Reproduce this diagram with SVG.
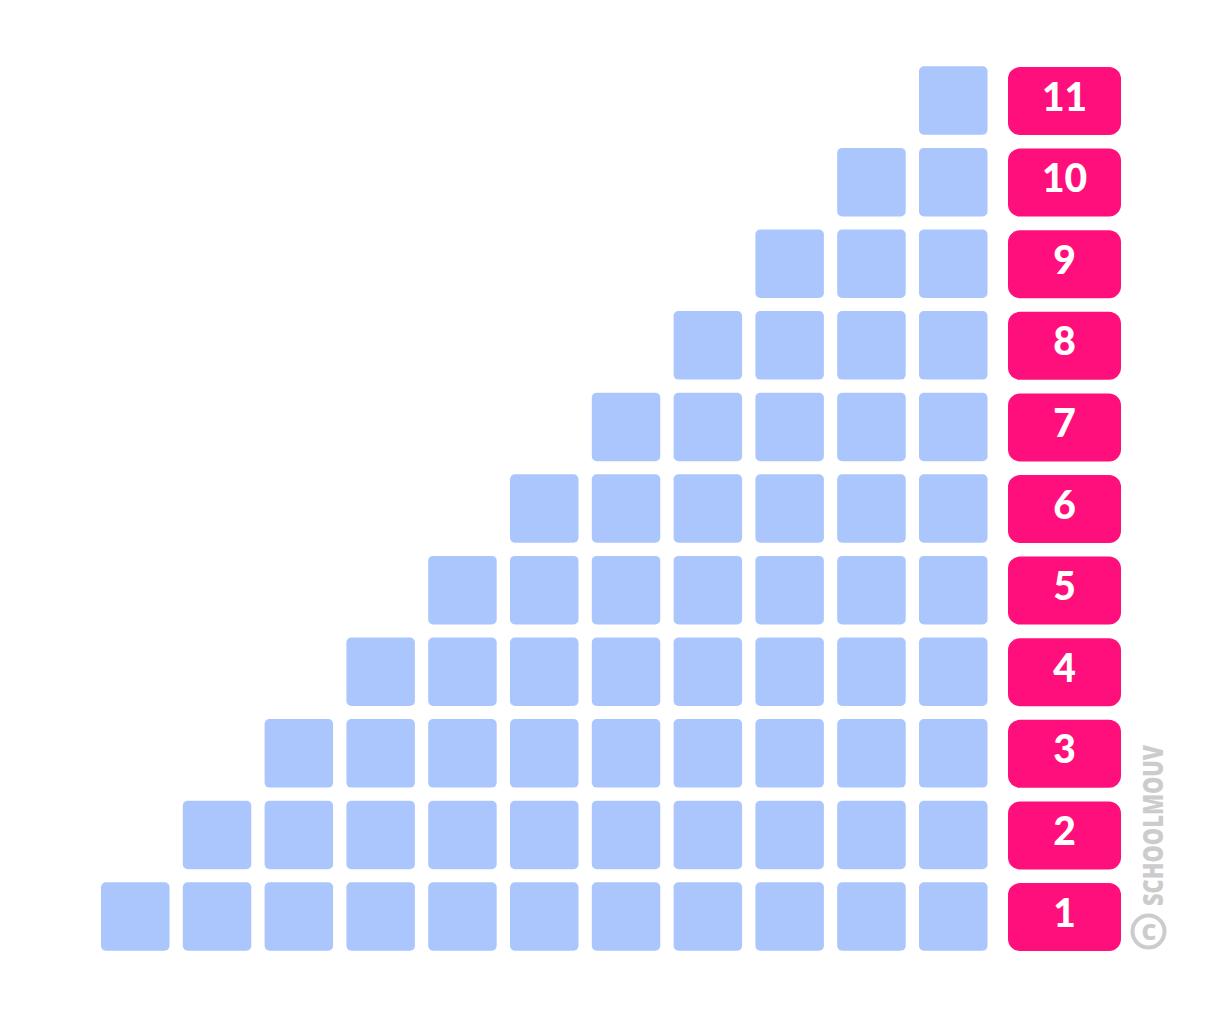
<svg xmlns="http://www.w3.org/2000/svg" width="1222" height="1015" viewBox="0 0 1222 1015">
<style>
.sq{fill:#abc6fd}
.lb{fill:#ff0f7b}
.lt{fill:#fff;font-family:Lato,"Open Sans",sans-serif;font-weight:900;font-size:39px;text-anchor:middle}
.wm{fill:#cccccc;font-family:"Open Sans","Liberation Sans",sans-serif;font-weight:800;font-size:28px}
</style>
<defs>
<rect id="s" width="68.5" height="68.5" rx="5"/>
<rect id="l" width="113" height="68" rx="12"/>
</defs>
<rect width="1222" height="1015" fill="#fff"/>
<g id="squares" class="sq">
<use href="#s" x="101" y="882.3"/><use href="#s" x="182.8" y="882.3"/><use href="#s" x="264.6" y="882.3"/><use href="#s" x="346.4" y="882.3"/><use href="#s" x="428.2" y="882.3"/><use href="#s" x="510" y="882.3"/><use href="#s" x="591.8" y="882.3"/><use href="#s" x="673.6" y="882.3"/><use href="#s" x="755.4" y="882.3"/><use href="#s" x="837.2" y="882.3"/><use href="#s" x="919" y="882.3"/>
<use href="#s" x="182.8" y="800.7"/><use href="#s" x="264.6" y="800.7"/><use href="#s" x="346.4" y="800.7"/><use href="#s" x="428.2" y="800.7"/><use href="#s" x="510" y="800.7"/><use href="#s" x="591.8" y="800.7"/><use href="#s" x="673.6" y="800.7"/><use href="#s" x="755.4" y="800.7"/><use href="#s" x="837.2" y="800.7"/><use href="#s" x="919" y="800.7"/>
<use href="#s" x="264.6" y="719.1"/><use href="#s" x="346.4" y="719.1"/><use href="#s" x="428.2" y="719.1"/><use href="#s" x="510" y="719.1"/><use href="#s" x="591.8" y="719.1"/><use href="#s" x="673.6" y="719.1"/><use href="#s" x="755.4" y="719.1"/><use href="#s" x="837.2" y="719.1"/><use href="#s" x="919" y="719.1"/>
<use href="#s" x="346.4" y="637.5"/><use href="#s" x="428.2" y="637.5"/><use href="#s" x="510" y="637.5"/><use href="#s" x="591.8" y="637.5"/><use href="#s" x="673.6" y="637.5"/><use href="#s" x="755.4" y="637.5"/><use href="#s" x="837.2" y="637.5"/><use href="#s" x="919" y="637.5"/>
<use href="#s" x="428.2" y="555.9"/><use href="#s" x="510" y="555.9"/><use href="#s" x="591.8" y="555.9"/><use href="#s" x="673.6" y="555.9"/><use href="#s" x="755.4" y="555.9"/><use href="#s" x="837.2" y="555.9"/><use href="#s" x="919" y="555.9"/>
<use href="#s" x="510" y="474.3"/><use href="#s" x="591.8" y="474.3"/><use href="#s" x="673.6" y="474.3"/><use href="#s" x="755.4" y="474.3"/><use href="#s" x="837.2" y="474.3"/><use href="#s" x="919" y="474.3"/>
<use href="#s" x="591.8" y="392.7"/><use href="#s" x="673.6" y="392.7"/><use href="#s" x="755.4" y="392.7"/><use href="#s" x="837.2" y="392.7"/><use href="#s" x="919" y="392.7"/>
<use href="#s" x="673.6" y="311.1"/><use href="#s" x="755.4" y="311.1"/><use href="#s" x="837.2" y="311.1"/><use href="#s" x="919" y="311.1"/>
<use href="#s" x="755.4" y="229.5"/><use href="#s" x="837.2" y="229.5"/><use href="#s" x="919" y="229.5"/>
<use href="#s" x="837.2" y="147.9"/><use href="#s" x="919" y="147.9"/>
<use href="#s" x="919" y="66.3"/>
</g>
<g id="labels">
<g id="label1"><use href="#l" class="lb" x="1008" y="883"/><text class="lt" x="1064.5" y="926.5">1</text></g>
<g id="label2"><use href="#l" class="lb" x="1008" y="801.4"/><text class="lt" x="1064.5" y="844.9">2</text></g>
<g id="label3"><use href="#l" class="lb" x="1008" y="719.8"/><text class="lt" x="1064.5" y="763.3">3</text></g>
<g id="label4"><use href="#l" class="lb" x="1008" y="638.2"/><text class="lt" x="1064.5" y="681.7">4</text></g>
<g id="label5"><use href="#l" class="lb" x="1008" y="556.6"/><text class="lt" x="1064.5" y="600.1">5</text></g>
<g id="label6"><use href="#l" class="lb" x="1008" y="475"/><text class="lt" x="1064.5" y="518.5">6</text></g>
<g id="label7"><use href="#l" class="lb" x="1008" y="393.4"/><text class="lt" x="1064.5" y="436.9">7</text></g>
<g id="label8"><use href="#l" class="lb" x="1008" y="311.8"/><text class="lt" x="1064.5" y="355.3">8</text></g>
<g id="label9"><use href="#l" class="lb" x="1008" y="230.2"/><text class="lt" x="1064.5" y="273.7">9</text></g>
<g id="label10"><use href="#l" class="lb" x="1008" y="148.6"/><text class="lt" x="1064.5" y="192.1">10</text></g>
<g id="label11"><use href="#l" class="lb" x="1008" y="67"/><text class="lt" x="1064.5" y="110.5">11</text></g>
</g>
<g id="watermark">
<circle cx="1148.5" cy="931.5" r="16" fill="none" stroke="#cccccc" stroke-width="4"/>
<text x="1149" y="940" font-family="Open Sans, Liberation Sans, sans-serif" font-weight="800" font-size="23" fill="#cccccc" text-anchor="middle">C</text>
<text class="wm" transform="translate(1163,906) rotate(-90)" textLength="161" lengthAdjust="spacingAndGlyphs">SCHOOLMOUV</text>
</g>
</svg>
